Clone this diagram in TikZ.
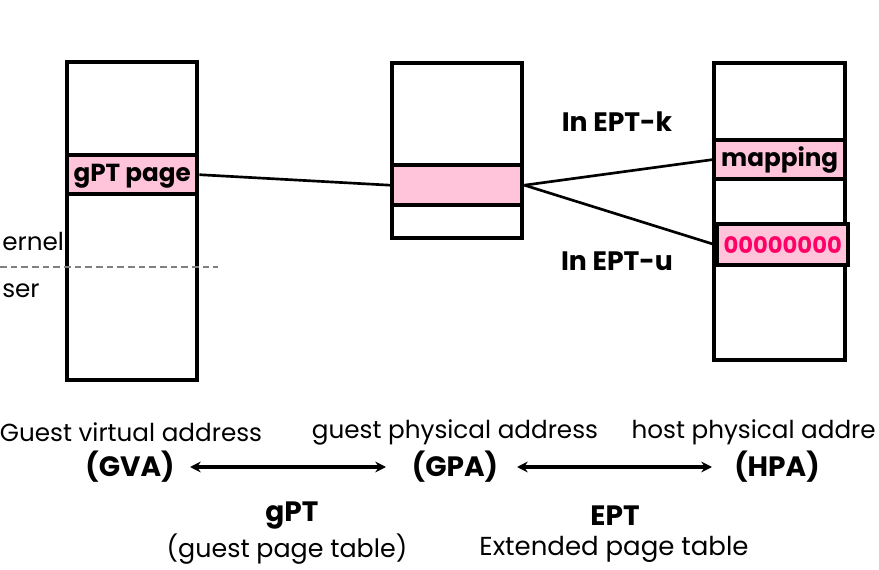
\documentclass[tikz,border=0pt]{standalone}
\usepackage{fontspec}
\setmainfont{Poppins}
\usetikzlibrary{arrows.meta,shadows}
\definecolor{pinkfill}{HTML}{FFC3DA}
\definecolor{magtext}{HTML}{FF0066}
\tikzset{
  mem/.style={draw=black, line width=3.3pt, fill=white, drop shadow={opacity=0.2, shadow xshift=1.5pt, shadow yshift=-1.5pt}},
  band/.style={draw=black, line width=3.3pt, fill=pinkfill, inner sep=0pt},
  link/.style={line width=2pt},
  dbl/.style={line width=2.6pt, {Stealth[length=8pt,width=8pt]}-{Stealth[length=8pt,width=8pt]}},
  lbl/.style={font=\fontsize{18.5}{20}\selectfont, inner sep=0pt},
  blbl/.style={font=\fontsize{20}{22}\selectfont\bfseries, inner sep=0pt},
  bigb/.style={font=\fontsize{21}{23}\selectfont\bfseries, inner sep=0pt},
  cellt/.style={font=\fontsize{18.5}{20}\selectfont\bfseries, inner sep=0pt},
}
\begin{document}
\begin{tikzpicture}[x=0.75pt,y=-0.75pt]
\useasboundingbox (0,0) rectangle (879,570);
% left box
\node[mem, minimum width=130*0.75pt, minimum height=318*0.75pt, anchor=north west] (L) at (65,60) {};
\node[band, minimum width=130*0.75pt, minimum height=39*0.75pt, anchor=north west] (Lb) at (65,153) {};
\node[cellt] (Lt) at ([yshift=-1.5pt]Lb.center) {gPT page};
% middle box
\node[mem, minimum width=130*0.75pt, minimum height=175*0.75pt, anchor=north west] (M) at (390,61) {};
\node[band, minimum width=130*0.75pt, minimum height=40*0.75pt, anchor=north west] (Mb) at (390,163) {};
% right box
\node[mem, minimum width=131*0.75pt, minimum height=297*0.75pt, anchor=north west] (R) at (712,61) {};
\node[band, minimum width=131*0.75pt, minimum height=39*0.75pt, anchor=north west] (Rb1) at (712,138) {};
\node[cellt] (Rt1) at (Rb1.center) {mapping};
\node[band, minimum width=131*0.75pt, minimum height=41*0.75pt, anchor=north west] (Rb2) at (715,222) {};
\node[cellt, text=magtext, font=\fontsize{17}{19}\selectfont\bfseries] (Rt2) at (Rb2.center) {00000000};
% links
\draw[link] (Lb.east) -- (Mb.west);
\draw[link] (Mb.east) -- (Rb1.west);
\draw[link] (Mb.east) -- (Rb2.west);
\node[blbl] (ek) at (617,122) {In EPT-k};
\node[blbl] (eu) at (617,261) {In EPT-u};
% kernel/user
\coordinate (d1) at (0,267);
\coordinate (d2) at (218,267);
\draw[gray, line width=1pt, dash pattern=on 5pt off 3pt] (d1) -- (d2);
\node[lbl, anchor=west] (kern) at (2,241) {ernel};
\node[lbl, anchor=west] (user) at (2,291) {ser};
% bottom labels
\node[lbl] (gvat) at (131,432) {Guest virtual address};
\node[lbl] (gpat) at (455,432) {guest physical address};
\node[lbl, anchor=east] (hpat) at (876,432) {host physical addre};
\node[bigb] (gva) at (130,467) {(GVA)};
\node[bigb] (gpa) at (455,467) {(GPA)};
\node[bigb] (hpa) at (777,467) {(HPA)};
\coordinate (a1) at (190,467);
\coordinate (a2) at (386,467);
\coordinate (a3) at (517,467);
\coordinate (a4) at (712,467);
\draw[dbl] (a1) -- (a2);
\draw[dbl] (a3) -- (a4);
\node[bigb] (gpt) at (292,516) {gPT};
\node[lbl, font=\fontsize{19}{21}\selectfont] (gptt) at (287,549) {(guest page table)};
\node[bigb] (ept) at (615,516) {EPT};
\node[lbl, font=\fontsize{19.5}{21}\selectfont] (eptt) at (614,549) {Extended page table};
\end{tikzpicture}
\end{document}
